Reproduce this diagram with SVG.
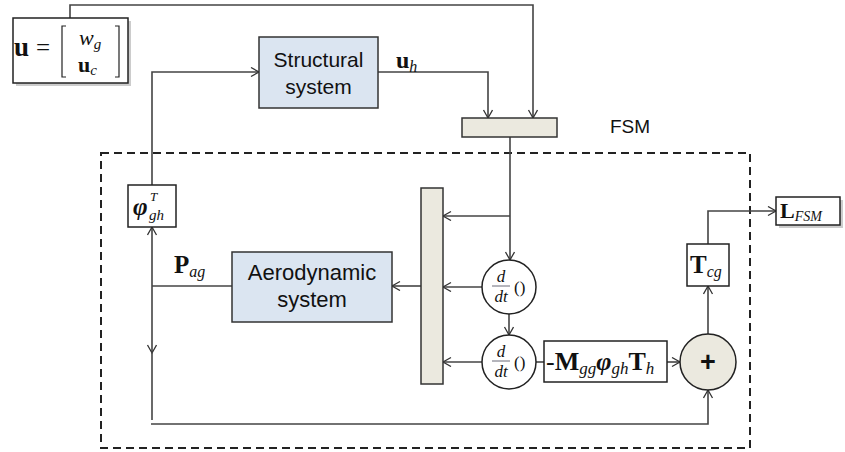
<svg xmlns="http://www.w3.org/2000/svg" width="845" height="452" viewBox="0 0 845 452">
<defs>
<marker id="arr" markerUnits="userSpaceOnUse" markerWidth="12" markerHeight="12" refX="9" refY="5" orient="auto">
<path d="M1,0.5 L9,5 L1,9.5" fill="none" stroke="#333" stroke-width="1.3"/>
</marker>
</defs>
<style>
.ln{fill:none;stroke:#444;stroke-width:1.6}
.ar{marker-end:url(#arr)}
.blue{fill:#dbe5f1;stroke:#333;stroke-width:1.5}
.beige{fill:#ebe9df;stroke:#333;stroke-width:1.5}
.wbox{fill:#fff;stroke:#222;stroke-width:1.5}
.shadow{fill:#aaa;opacity:0.6}
.sans{font-family:"Liberation Sans",Arial,sans-serif;fill:#111}
.m{font-family:"Liberation Serif","Times New Roman",serif;fill:#111}
.b{font-weight:bold}
.i{font-style:italic}
</style>
<rect x="101" y="153" width="649" height="295" fill="none" stroke="#222" stroke-width="2" stroke-dasharray="8,5"/>
<text class="sans" x="610" y="133" font-size="19">FSM</text>
<g id="connectors">
<path class="ln ar" d="M70,18 V5 H533 V118"/>
<path class="ln ar" d="M378,72 H488 V118"/>
<path class="ln ar" d="M152,185 V72 H259"/>
<path class="ln ar" d="M510,137 V260"/>
<path class="ln ar" d="M510,216 H443"/>
<path class="ln ar" d="M482,287 H443"/>
<path class="ln ar" d="M509,314 V335"/>
<path class="ln ar" d="M482,362 H443"/>
<path class="ln" d="M536,362 H544"/>
<path class="ln ar" d="M667,362 H680"/>
<path class="ln ar" d="M708,334 V286"/>
<path class="ln ar" d="M708,244 V211 H776"/>
<path class="ln ar" d="M421,286 H392"/>
<path class="ln" d="M232,286 H152"/>
<path class="ln ar" d="M152,286 V227"/>
<path class="ln ar" d="M152,286 V353"/>
<path class="ln" d="M152,352 V420"/>
<path class="ln ar" d="M151,424 H708 V390"/>
</g>
<g id="input">
<rect class="shadow" x="16" y="21" width="115" height="65"/>
<rect class="wbox" x="13" y="18" width="115" height="65" stroke-width="2"/>
<text class="m b" x="14" y="56" font-size="27">u</text>
<text class="m" x="36" y="56" font-size="25">=</text>
<path d="M66,26 H62 V77 H66 M115,26 H119 V77 H115" fill="none" stroke="#222" stroke-width="1.2"/>
<text class="m i" x="79" y="45" font-size="22" fill="#444">w<tspan font-size="15" dy="4">g</tspan></text>
<text class="m b" x="78" y="72" font-size="22">u<tspan class="i" font-weight="normal" font-size="15" dy="3">c</tspan></text>
</g>
<g id="structural">
<rect class="blue" x="259" y="37" width="119" height="71"/>
<text class="sans" x="318.5" y="67" font-size="21" text-anchor="middle">Structural</text>
<text class="sans" x="318.5" y="94" font-size="21" text-anchor="middle">system</text>
</g>
<text class="m b" x="396" y="68" font-size="24">u<tspan class="i" font-weight="normal" font-size="16" dy="4">h</tspan></text>
<g id="topbar">
<rect class="beige" x="462" y="118" width="95" height="19"/>
</g>
<g id="phi">
<rect class="wbox" x="128" y="185" width="48" height="42"/>
<text class="m b i" x="133" y="215" font-size="25">φ</text>
<text class="m i" x="150" y="201" font-size="13">T</text>
<text class="m i" x="149" y="220" font-size="15">gh</text>
</g>
<text class="m b" x="174" y="273" font-size="25">P<tspan class="i" font-weight="normal" font-size="16" dy="4">ag</tspan></text>
<g id="aero">
<rect class="blue" x="232" y="252" width="160" height="70"/>
<text class="sans" x="312" y="280" font-size="22" text-anchor="middle">Aerodynamic</text>
<text class="sans" x="312" y="307" font-size="22" text-anchor="middle">system</text>
</g>
<g id="vbar">
<rect class="beige" x="421" y="188" width="22" height="196"/>
</g>
<g id="ddt1">
<circle cx="509" cy="287" r="27" fill="#fff" stroke="#222" stroke-width="1.5"/>
<text class="m i" x="501" y="282" font-size="17" text-anchor="middle" fill="#334">d</text>
<line x1="492" y1="286" x2="510" y2="286" stroke="#445" stroke-width="0.8"/>
<text class="m i" x="501" y="302" font-size="17" text-anchor="middle" fill="#334">dt</text>
<text class="m" x="514" y="293" font-size="17" fill="#556">()</text>
</g>
<g id="ddt2">
<circle cx="509" cy="362" r="27" fill="#fff" stroke="#222" stroke-width="1.5"/>
<text class="m i" x="501" y="357" font-size="17" text-anchor="middle" fill="#334">d</text>
<line x1="492" y1="361" x2="510" y2="361" stroke="#445" stroke-width="0.8"/>
<text class="m i" x="501" y="377" font-size="17" text-anchor="middle" fill="#334">dt</text>
<text class="m" x="514" y="368" font-size="17" fill="#556">()</text>
</g>
<g id="mgain">
<rect class="wbox" x="544" y="341" width="123" height="41"/>
<text class="m" x="546" y="370" font-size="26">-<tspan class="b">M</tspan><tspan class="i" font-size="17" dy="4">gg</tspan><tspan class="b i" dy="-4">φ</tspan><tspan class="i" font-size="17" dy="4">gh</tspan><tspan class="b" dy="-4">T</tspan><tspan class="i" font-size="17" dy="4">h</tspan></text>
</g>
<g id="sum">
<circle cx="708" cy="362" r="28" fill="#ebe9df" stroke="#222" stroke-width="1.5"/>
<text class="sans b" x="708" y="371" font-size="27" text-anchor="middle">+</text>
</g>
<g id="tcg">
<rect class="wbox" x="687" y="244" width="42" height="42"/>
<text class="m b" x="690" y="273" font-size="25">T<tspan class="i" font-weight="normal" font-size="16" dy="4">cg</tspan></text>
</g>
<g id="output">
<rect class="shadow" x="779" y="200" width="64" height="28"/>
<rect class="wbox" x="776" y="197" width="64" height="28" stroke-width="2"/>
<text class="m b" x="780" y="218" font-size="22">L<tspan class="i" font-weight="normal" font-size="14" dy="3">FSM</tspan></text>
</g>
</svg>
